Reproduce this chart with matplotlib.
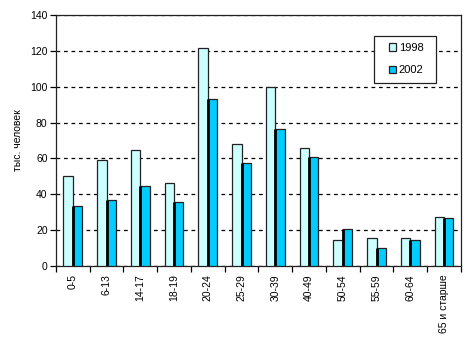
import numpy as np
import matplotlib
matplotlib.use("Agg")
import matplotlib.pyplot as plt
from matplotlib.ticker import FixedLocator
from matplotlib.patches import Rectangle

plt.rcParams['font.family'] = ['Liberation Sans', 'DejaVu Sans']

groups = ['0-5', '6-13', '14-17', '18-19', '20-24', '25-29', '30-39',
          '40-49', '50-54', '55-59', '60-64', '65 и старше']
y1998 = [50.0, 58.9, 64.5, 46.1, 121.4, 67.9, 99.7, 65.6, 14.3, 15.4, 15.4, 27.2]
y2002 = [33.3, 36.6, 44.4, 35.5, 93.0, 57.3, 76.2, 60.6, 20.5, 9.9, 14.3, 26.6]

edge = '#222222'

fig = plt.figure(figsize=(4.66, 3.43), dpi=100)
ax = fig.add_axes([0.120, 0.2245, 0.869, 0.7315])

x = np.arange(len(groups))
w = 0.28
ax.bar(x - w / 2, y1998, w, color='#CCFFFF', edgecolor=edge, linewidth=0.9, label='1998', zorder=3)
ax.bar(x + w / 2, y2002, w, color='#00CCFF', edgecolor=edge, linewidth=0.9, label='2002', zorder=3)
# thick dark line between the paired bars
ax.vlines(x, 0, y2002, color='black', linewidth=2.0, zorder=4)

ax.set_xlim(-0.5, len(groups) - 0.5)
ax.set_ylim(0, 140)
ax.set_yticks(range(0, 141, 20))
ax.yaxis.grid(True, color='black', linestyle=(0, (3, 3)), linewidth=0.9)
ax.set_axisbelow(True)

ax.set_xticks(x)
ax.set_xticklabels(groups, rotation=90, fontsize=7.5)
ax.tick_params(axis='x', length=0, pad=6)
ax.xaxis.set_minor_locator(FixedLocator(np.arange(-0.5, len(groups), 1)))
ax.tick_params(axis='x', which='minor', length=4, direction='out', width=0.9)
ax.tick_params(axis='y', labelsize=7.5, length=4, width=0.9, pad=2)

for s in ax.spines.values():
    s.set_color(edge)
    s.set_linewidth(0.9)

ax.set_ylabel('тыс. человек', fontsize=7.5, labelpad=5)

# legend box drawn separately so its padding matches the original
box = Rectangle((0.785, 0.729), 0.153, 0.187, transform=ax.transAxes,
                facecolor='white', edgecolor=edge, linewidth=0.9, zorder=5)
ax.add_patch(box)
leg = ax.legend(loc='center', bbox_to_anchor=(0.865, 0.825), fontsize=8,
                frameon=False, borderaxespad=0, borderpad=0,
                handlelength=0.65, handleheight=0.65, handletextpad=0.25,
                labelspacing=1.1)
leg.set_zorder(6)

fig.savefig('out.png', dpi=100)
